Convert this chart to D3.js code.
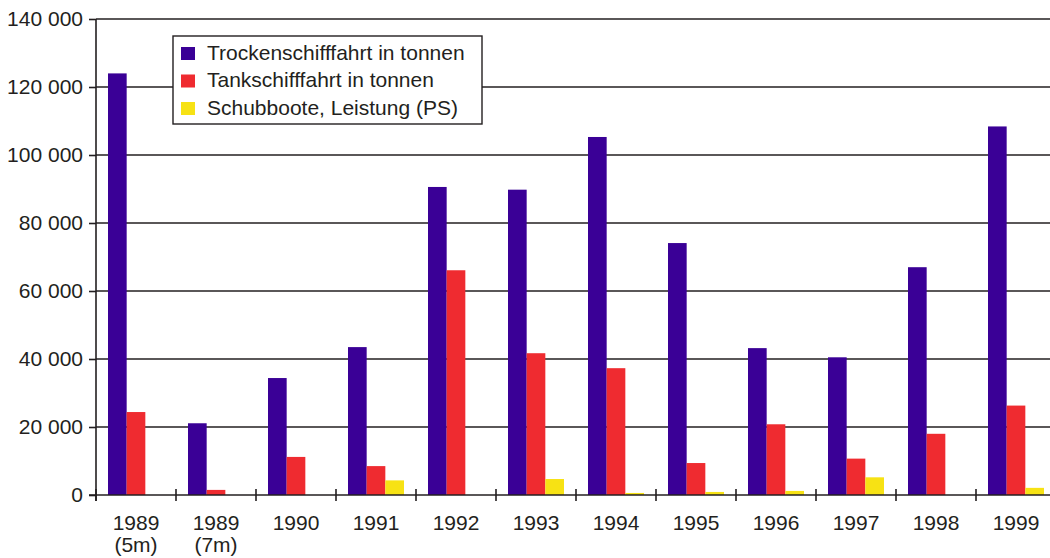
<!DOCTYPE html>
<html>
<head>
<meta charset="utf-8">
<script src="https://cdn.jsdelivr.net/npm/d3@7"></script>
<style>
  body { margin: 0; background: #fff; }
  svg { display: block; font-family: "Liberation Sans", Arial, sans-serif; }
</style>
</head>
<body>
<div id="chart"></div>
<script>
// data
var categories = ["1989|(5m)", "1989|(7m)", "1990", "1991", "1992", "1993",
                  "1994", "1995", "1996", "1997", "1998", "1999"];
var seriesNames = ["Trockenschifffahrt in tonnen", "Tankschifffahrt in tonnen", "Schubboote, Leistung (PS)"];
var trocken = [124000, 21100, 34400, 43500, 90600, 89800, 105300, 74100, 43200, 40500, 67000, 108400];
var tank    = [24400, 1500, 11200, 8500, 66100, 41700, 37300, 9400, 20800, 10700, 18000, 26300];
var schub   = [0, 0, 0, 4300, 0, 4700, 600, 900, 1200, 5200, 0, 2100];
var yTicks  = [0, 20000, 40000, 60000, 80000, 100000, 120000, 140000];

(function() {
var colors = ["#3a0096", "#ef2b30", "#f7e214"];
var ink = "#231f20";

// set the dimensions and margins of the graph
var W = 1050, H = 558;
var margin = {top: 19, left: 96},
    plotW = 960,
    plotH = 476;

var svg = d3.select("#chart").append("svg")
    .attr("width", W)
    .attr("height", H);

var g = svg.append("g")
    .attr("transform", "translate(" + margin.left + "," + margin.top + ")");

var x = d3.scaleBand()
  .domain(categories)
  .range([0, plotW])
  .paddingInner(0.3)
  .paddingOuter(0.15);

var xSub = d3.scaleBand()
  .domain([0, 1, 2])
  .range([0, x.bandwidth()]);

var y = d3.scaleLinear()
  .domain([0, 140000])
  .range([plotH, 0]);

var locale = d3.formatLocale({decimal: ",", thousands: " ", grouping: [3], currency: ["", ""]});
var fmt = locale.format(",");

// gridlines
g.selectAll(".grid")
  .data(yTicks.filter(function(d) { return d > 0; }))
  .enter().append("line")
    .attr("x1", 0)
    .attr("x2", W - margin.left)
    .attr("y1", function(d) { return y(d); })
    .attr("y2", function(d) { return y(d); })
    .attr("stroke", ink)
    .attr("stroke-width", 1.6);

// bars
var rows = categories.map(function(c, i) {
  return {cat: c, vals: [trocken[i], tank[i], schub[i]]};
});

var groups = g.selectAll(".grp")
  .data(rows)
  .enter().append("g")
    .attr("transform", function(d) { return "translate(" + x(d.cat) + ",0)"; });

groups.selectAll("rect")
  .data(function(d) { return d.vals.map(function(v, k) { return {k: k, v: v}; }); })
  .enter().append("rect")
    .attr("x", function(d) { return xSub(d.k); })
    .attr("width", xSub.bandwidth())
    .attr("y", function(d) { return y(d.v); })
    .attr("height", function(d) { return plotH - y(d.v); })
    .attr("fill", function(d) { return colors[d.k]; });

// y axis
var yAxis = g.append("g")
  .call(d3.axisLeft(y).tickValues(yTicks).tickFormat(fmt).tickSize(7).tickPadding(6));
yAxis.select(".domain").remove();
yAxis.selectAll("line").attr("stroke", ink).attr("stroke-width", 1.6);
yAxis.selectAll("text")
  .style("font-size", "21px")
  .attr("fill", ink);

g.append("line")
  .attr("x1", 0).attr("x2", 0)
  .attr("y1", 0).attr("y2", plotH + 6)
  .attr("stroke", ink).attr("stroke-width", 1.6);

// x axis line and ticks between groups
g.append("line")
  .attr("x1", -7).attr("x2", W - margin.left)
  .attr("y1", plotH).attr("y2", plotH)
  .attr("stroke", ink).attr("stroke-width", 1.6);

var step = x.step();
g.selectAll(".xtick")
  .data(d3.range(categories.length + 1))
  .enter().append("line")
    .attr("x1", function(i) { return i * step; })
    .attr("x2", function(i) { return i * step; })
    .attr("y1", plotH - 6)
    .attr("y2", plotH + 6)
    .attr("stroke", ink)
    .attr("stroke-width", 1.6);

var xl = g.selectAll(".xlab")
  .data(categories)
  .enter().append("text")
    .attr("x", function(d) { return x(d) + x.bandwidth() / 2; })
    .attr("y", plotH + 35)
    .attr("text-anchor", "middle")
    .attr("fill", ink)
    .style("font-size", "21px");

xl.selectAll("tspan")
  .data(function(d) { return d.split("|"); })
  .enter().append("tspan")
    .attr("x", function() { return d3.select(this.parentNode).attr("x"); })
    .attr("dy", function(d, i) { return i === 0 ? 0 : 22; })
    .text(function(d) { return d; });

// legend
var legend = svg.append("g").attr("transform", "translate(173,36)");
legend.append("rect")
  .attr("width", 309)
  .attr("height", 88)
  .attr("fill", "#fff")
  .attr("stroke", ink)
  .attr("stroke-width", 1.4);

var li = legend.selectAll(".li")
  .data(seriesNames)
  .enter().append("g")
    .attr("transform", function(d, i) { return "translate(8," + (11 + i * 27.5) + ")"; });

li.append("rect")
  .attr("width", 14)
  .attr("height", 13)
  .attr("fill", function(d, i) { return colors[i]; });

li.append("text")
  .attr("x", 26)
  .attr("y", 12.5)
  .attr("fill", ink)
  .style("font-size", "21px")
  .text(function(d) { return d; });
})();
</script>
</body>
</html>
